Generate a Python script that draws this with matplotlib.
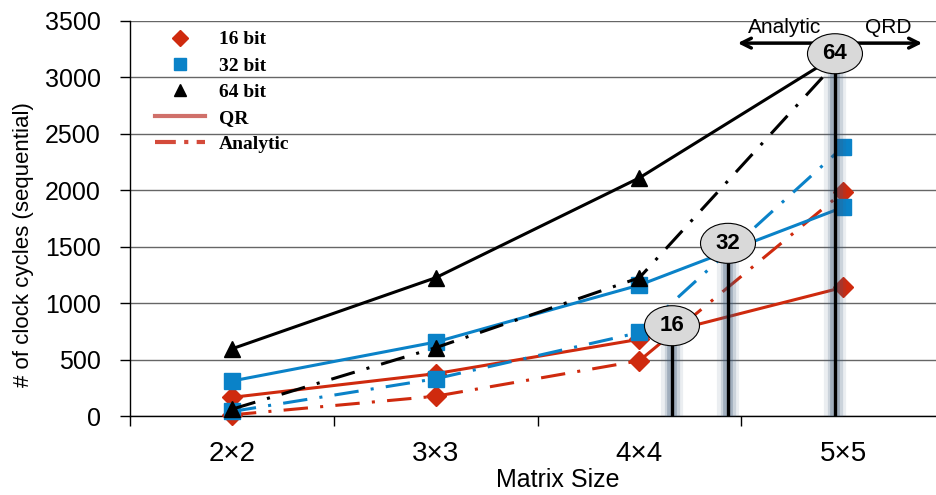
import matplotlib.pyplot as plt
import matplotlib.patches as mpatches
import matplotlib.transforms as mtransforms
from matplotlib.lines import Line2D

# matrix sizes on the x axis
sizes = ['2×2', '3×3', '4×4', '5×5']

# clock cycles, QR decomposition
qr_16 = [165, 375, 680, 1140]
qr_32 = [310, 655, 1160, 1850]
qr_64 = [595, 1225, 2110, 3230]

# clock cycles, analytic method
an_16 = [10, 175, 490, 1985]
an_32 = [40, 330, 740, 2385]
an_64 = [60, 605, 1225, 3200]

# crossover points (where QR gets cheaper than analytic)
cross_labels = ['16', '32', '64']
cross_x = [2.16, 2.435, 2.96]
cross_y = [800, 1530, 3210]

red = '#cf2a0e'
blue = '#0a82c8'
black = '#000000'

fig = plt.figure(figsize=(9.37, 4.95), dpi=100)
ax = fig.add_axes([130 / 937, 1 - 416 / 495, 1 - 130 / 937, 395 / 495])

x = list(range(len(sizes)))
dash = (8, 4, 1, 4)

series = [
    (qr_16, an_16, red, 'D', 10),
    (qr_32, an_32, blue, 's', 11.5),
    (qr_64, an_64, black, '^', 12),
]
for qr, an, col, mk, ms in series:
    ax.plot(x, qr, color=col, lw=2.2, marker=mk, ms=ms, mec=col, clip_on=False, zorder=3)
    ax.plot(x, an, color=col, lw=2.2, marker=mk, ms=ms, mec=col, dashes=dash,
            clip_on=False, zorder=3)

ax.set_xlim(-0.5, -0.5 + (937 - 130) / 203.75)
ax.set_ylim(0, 3500)
ax.set_yticks(range(0, 3501, 500))
ax.set_xticks(x)
ax.set_xticklabels(sizes, fontsize=20, family='Liberation Sans')
ax.set_xticks([-0.5, 0.5, 1.5, 2.5], minor=True)
ax.tick_params(axis='x', which='major', length=0, pad=18)
ax.tick_params(axis='x', which='minor', length=7, width=1, direction='out')
ax.tick_params(axis='y', length=7, width=1, direction='out', pad=14, labelsize=18)
for lab in ax.get_yticklabels():
    lab.set_family('Liberation Sans')

ax.grid(axis='y', color='#666666', lw=1)
ax.set_axisbelow(True)
for s in ['top', 'right']:
    ax.spines[s].set_visible(False)
ax.spines['left'].set_linewidth(1)
ax.spines['bottom'].set_linewidth(1)

fig.text(558 / 937, 1 - 480 / 495, 'Matrix Size', fontsize=18,
         family='Liberation Sans', ha='center', va='center')
fig.text(24 / 937, 1 - 245 / 495, '# of clock cycles (sequential)', rotation=90,
         fontsize=16, family='Liberation Sans', ha='center', va='center')

# crossover markers: glowing vertical bars with labelled ellipses
for lab, cx, cy in zip(cross_labels, cross_x, cross_y):
    for w, a in [(16, 0.1), (11, 0.18), (7, 0.3)]:
        ax.plot([cx, cx], [0, cy], color='#3d5a7a', lw=w, alpha=a,
                solid_capstyle='butt', zorder=5, clip_on=False)
    ax.plot([cx, cx], [0, cy], color='black', lw=2.4, solid_capstyle='butt',
            zorder=6, clip_on=False)
    tr = fig.dpi_scale_trans + mtransforms.ScaledTranslation(cx, cy, ax.transData)
    ax.add_patch(mpatches.Ellipse((0, 0), 0.55, 0.40, transform=tr,
                                  facecolor='#d9d9d9', edgecolor='black', lw=0.8,
                                  zorder=7, clip_on=False))
    ax.text(cx, cy, lab, fontsize=16, fontweight='bold', family='Liberation Sans',
            ha='center', va='center', zorder=8)

# Analytic <-> QRD arrow
ax.annotate('', xy=(2.469, 3304), xytext=(3.402, 3304),
            arrowprops=dict(arrowstyle='<->, head_length=0.7, head_width=0.35',
                            lw=2.5, color='black'),
            annotation_clip=False, zorder=6)
ax.text(2.715, 3440, 'Analytic', fontsize=15, family='Liberation Sans',
        ha='center', va='center', zorder=6)
ax.text(3.22, 3440, 'QRD', fontsize=15, family='Liberation Sans',
        ha='center', va='center', zorder=6)

handles = [
    Line2D([], [], ls='none', marker='D', ms=8, color=red),
    Line2D([], [], ls='none', marker='s', ms=9, color=blue),
    Line2D([], [], ls='none', marker='^', ms=9, color=black),
    Line2D([], [], color='#d0706a', lw=3),
    Line2D([], [], color='#d44a3a', lw=3, dashes=(5, 2, 1, 2)),
]
labels = ['16 bit', '32 bit', '64 bit', 'QR', 'Analytic']
fig.legend(handles, labels, loc='upper left', bbox_to_anchor=(145 / 937, 1 - 21 / 495),
           bbox_transform=fig.transFigure, frameon=False, borderpad=0,
           handlelength=2.6, handletextpad=0.7, labelspacing=0.44,
           prop={'family': 'Liberation Serif', 'weight': 'bold', 'size': 14})

fig.savefig('out.png', dpi=100)
